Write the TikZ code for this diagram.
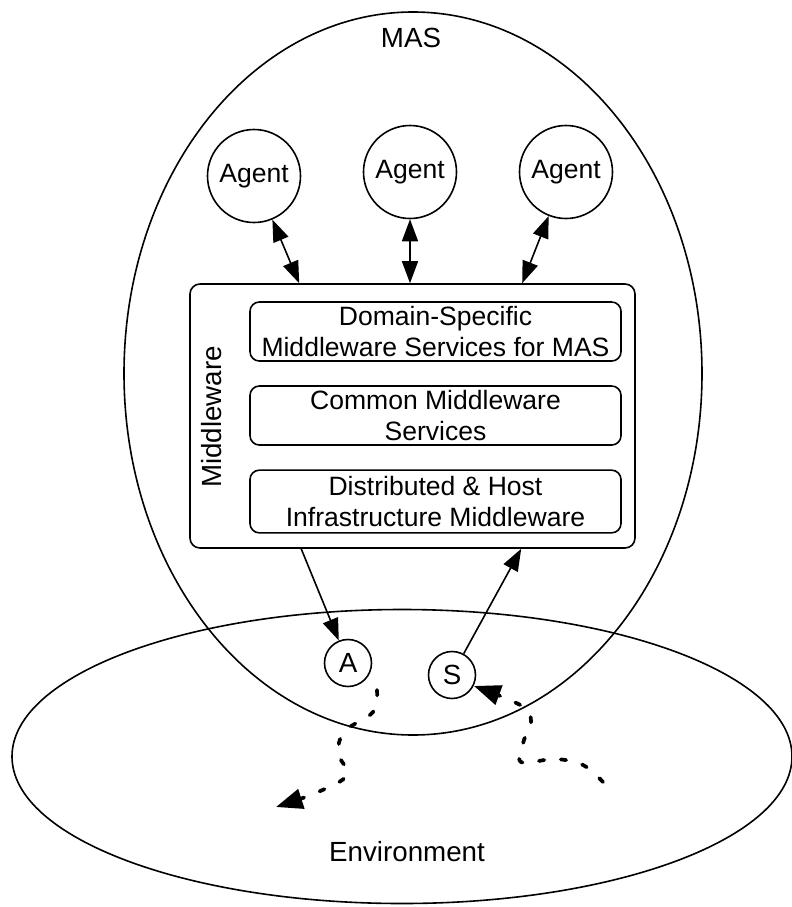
\documentclass[tikz,border=0pt]{standalone}
\usepackage{fontspec}
\setmainfont{Liberation Sans}
\usetikzlibrary{arrows.meta,shapes.geometric,calc}
\begin{document}
\begin{tikzpicture}[x=0.75pt,y=-0.75pt,
  lw/.style={line width=1.2pt},
  txt/.style={font=\fontsize{19.9}{23.2}\selectfont},
  big/.style={font=\fontsize{20.8}{25}\selectfont},
  agent/.style={circle,draw,lw,minimum size=69.75pt,inner sep=0pt,txt},
  smallc/.style={circle,draw,lw,minimum size=35.25pt,inner sep=0pt,big},
  layer/.style={draw,lw,rounded corners=7pt,minimum width=278.25pt,align=center,inner sep=0pt,txt},
  arr/.style={lw,-{Triangle[length=16.5pt,width=12pt]}},
  darr/.style={lw,{Triangle[length=16.5pt,width=12pt]}-{Triangle[length=16.5pt,width=12pt]}},
  dots/.style={line width=2.8pt,line cap=round,dash pattern=on 4pt off 12.5pt,-{Triangle[length=20pt,width=15pt]}}
]
\useasboundingbox (0,0) rectangle (792,907);

% big ellipses
\node[ellipse,draw,lw,minimum width=433.5pt,minimum height=542.25pt,inner sep=0pt] (mas) at (413,373.5) {};
\node[ellipse,draw,lw,minimum width=585pt,minimum height=220.5pt,inner sep=0pt] (env) at (402,756.5) {};
\node[big] (maslabel) at (411,38) {MAS};
\node[big] (envlabel) at (407,852) {Environment};

% agents
\node[agent] (ag1) at (254,176) {Agent};
\node[agent] (ag2) at (410,172) {Agent};
\node[agent] (ag3) at (566,172) {Agent};

% middleware
\node[draw,lw,rounded corners=7.5pt,minimum width=333.75pt,minimum height=198pt,inner sep=0pt] (mw) at (412.5,416) {};
\node[big,rotate=90] (mwl) at (212,417) {Middleware};
\node[layer,minimum height=44.25pt] (l1) at (435.5,331.5) {Domain-Specific\\Middleware Services for MAS};
\node[layer,minimum height=44.25pt] (l2) at (435.5,415.5) {Common Middleware\\Services};
\node[layer,minimum height=47pt] (l3) at (435.5,501.5) {Distributed \& Host\\Infrastructure Middleware};

% actuator and sensor
\node[smallc] (A) at (348,663) {A};
\node[smallc] (S) at (452,675) {S};

% anchor points on the middleware box
\path (mw.north west) ++(110,0) coordinate (t1);
\path (mw.north west) ++(333,0) coordinate (t3);
\path (mw.south west) ++(112,0) coordinate (b1);
\path (mw.south west) ++(332,0) coordinate (b2);

\draw[darr] (ag1) -- (t1);
\draw[darr] (ag2) -- (ag2 |- mw.north);
\draw[darr] (ag3) -- (t3);
\draw[arr] (b1) -- (A);
\draw[arr] (S) -- (b2);

% dotted environment paths
\coordinate (a0) at (377,690);
\coordinate (a9) at (276,807);
\coordinate (s0) at (603,782);
\coordinate (s9) at (474,686);
\draw[dots] plot[smooth,tension=0.6] coordinates {(a0) (373,712) (345,731) (338,753) (347,775) (318,792) (a9)};
\draw[dots] plot[smooth,tension=0.6] coordinates {(s0) (583,765) (555,759) (521,762) (524,740) (531,722) (522,706) (s9)};
\end{tikzpicture}
\end{document}
